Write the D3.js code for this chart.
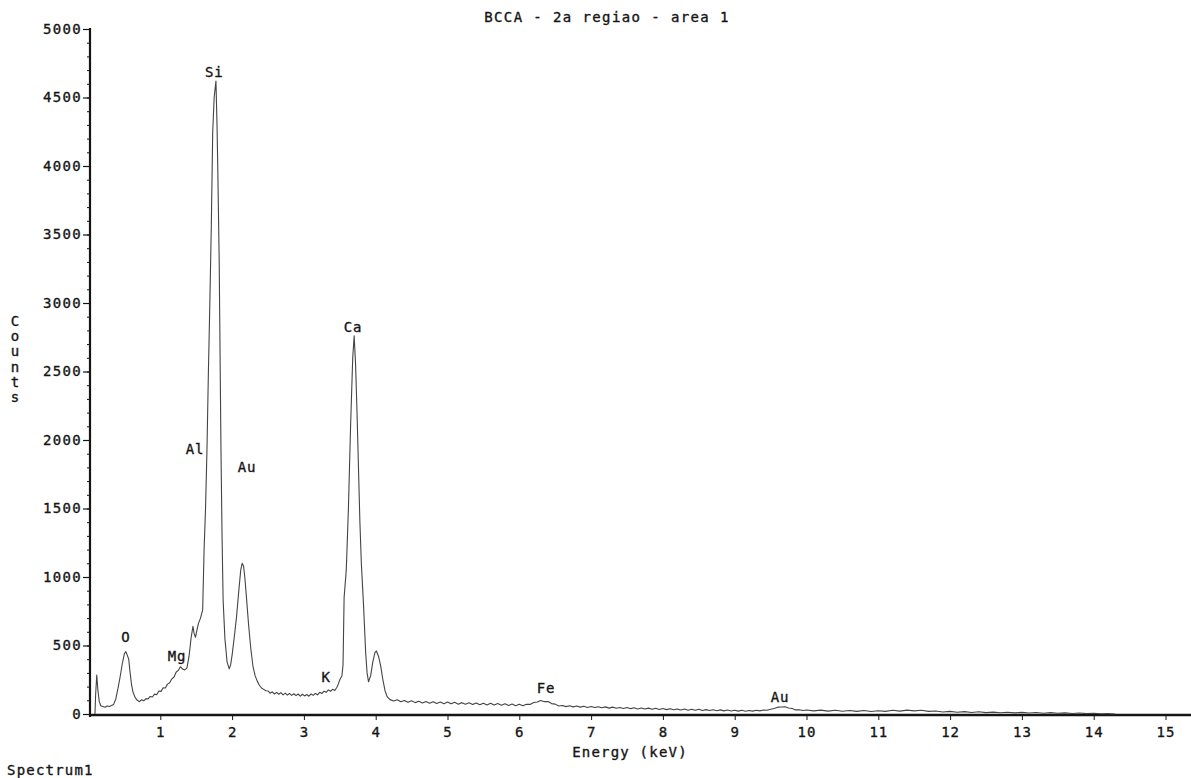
<!DOCTYPE html>
<html>
<head>
<meta charset="utf-8">
<script src="https://cdn.jsdelivr.net/npm/d3@7"></script>
<style>
  body { margin: 0; background: #fff; }
</style>
</head>
<body>
<div id="wrapper"></div>
<script>
width = 1191
height = 778

// spectrum, low energy part [keV, counts]
var peakRegion = [
  [0.09, 0], [0.10, 150], [0.115, 285], [0.13, 180], [0.15, 90], [0.17, 60], [0.20, 55], [0.23, 50],
  [0.26, 58], [0.29, 55], [0.32, 62], [0.35, 70], [0.38, 110], [0.41, 185], [0.44, 270], [0.47, 365],
  [0.50, 440], [0.52, 455], [0.54, 430], [0.56, 400], [0.58, 300], [0.60, 210], [0.62, 160], [0.65, 120],
  [0.68, 100], [0.71, 90], [0.74, 104], [0.77, 96], [0.80, 112], [0.83, 110], [0.86, 128], [0.89, 124],
  [0.92, 145], [0.95, 140], [0.98, 168], [1.01, 165], [1.04, 192], [1.07, 190], [1.10, 218], [1.13, 228],
  [1.16, 256], [1.19, 268], [1.22, 305], [1.25, 318], [1.28, 345], [1.31, 328], [1.34, 322], [1.37, 335],
  [1.40, 420], [1.43, 560], [1.455, 640], [1.47, 590], [1.49, 560], [1.51, 610], [1.53, 660], [1.56, 700],
  [1.59, 760], [1.61, 1200], [1.63, 1500], [1.65, 1930], [1.67, 2500], [1.69, 3000], [1.71, 3550], [1.73, 4250],
  [1.75, 4500], [1.775, 4620], [1.79, 4300], [1.80, 4000], [1.82, 3320], [1.845, 1930], [1.86, 1300], [1.875, 830],
  [1.90, 550], [1.93, 380], [1.96, 330], [1.98, 360], [2.00, 430], [2.03, 560], [2.06, 700], [2.09, 880],
  [2.12, 1050], [2.14, 1100], [2.16, 1080], [2.18, 980], [2.20, 850], [2.23, 650], [2.26, 480], [2.29, 350],
  [2.32, 280], [2.35, 240], [2.38, 210], [2.41, 190], [2.44, 180], [2.47, 170], [2.50, 168], [2.53, 152],
  [2.56, 162], [2.59, 146], [2.62, 158], [2.65, 144], [2.68, 156], [2.71, 140], [2.74, 152], [2.77, 138],
  [2.80, 150], [2.83, 136], [2.86, 148], [2.89, 134], [2.92, 146], [2.95, 130], [2.98, 144], [3.01, 132],
  [3.04, 142], [3.07, 130], [3.10, 146], [3.13, 136], [3.16, 150], [3.19, 140], [3.22, 158], [3.25, 150],
  [3.28, 166], [3.31, 158], [3.34, 176], [3.37, 166], [3.40, 180], [3.43, 172], [3.46, 195], [3.48, 220],
  [3.50, 250], [3.53, 280], [3.545, 360], [3.56, 850], [3.59, 1050],
  [3.62, 1500], [3.65, 2100], [3.68, 2600], [3.70, 2760], [3.72, 2550], [3.74, 2200], [3.76, 1800], [3.78, 1400],
  [3.80, 1100], [3.83, 800], [3.86, 450], [3.88, 300], [3.90, 235], [3.93, 280], [3.96, 380], [3.99, 450],
  [4.01, 460], [4.04, 420], [4.07, 350], [4.10, 250], [4.13, 170], [4.16, 125], [4.20, 105], [4.25, 95]
]

// spectrum, background tail [keV, counts]
var tailRegion = [
  [4.30, 104], [4.35, 90], [4.40, 99], [4.45, 85], [4.50, 96], [4.55, 83], [4.60, 93], [4.65, 80],
  [4.70, 91], [4.75, 79], [4.80, 90], [4.85, 77], [4.90, 88], [4.95, 75], [5.00, 87], [5.05, 74],
  [5.10, 85], [5.15, 72], [5.20, 83], [5.25, 71], [5.30, 82], [5.35, 69], [5.40, 81], [5.45, 68],
  [5.50, 79], [5.55, 66], [5.60, 78], [5.65, 65], [5.70, 76], [5.75, 64], [5.80, 75], [5.85, 62],
  [5.90, 73], [5.95, 61], [6.00, 72], [6.05, 60], [6.10, 71], [6.15, 70], [6.20, 84], [6.25, 88],
  [6.30, 98], [6.35, 90], [6.40, 91], [6.45, 76], [6.50, 72], [6.55, 58], [6.60, 62], [6.65, 54],
  [6.70, 60], [6.75, 52], [6.80, 58], [6.85, 50], [6.90, 56], [6.95, 48], [7.00, 55], [7.05, 47],
  [7.10, 53], [7.15, 45], [7.20, 52], [7.25, 43], [7.30, 50], [7.35, 42], [7.40, 48], [7.45, 40],
  [7.50, 47], [7.55, 39], [7.60, 45], [7.65, 37], [7.70, 44], [7.75, 36], [7.80, 43], [7.85, 34],
  [7.90, 42], [7.95, 33], [8.00, 40], [8.05, 32], [8.10, 39], [8.15, 31], [8.20, 37], [8.25, 29],
  [8.30, 36], [8.35, 28], [8.40, 35], [8.45, 27], [8.50, 34], [8.55, 26], [8.60, 32], [8.65, 25],
  [8.70, 31], [8.75, 24], [8.80, 30], [8.85, 23], [8.90, 29], [8.95, 22], [9.00, 28], [9.05, 21],
  [9.10, 27], [9.15, 20], [9.20, 26], [9.25, 21], [9.30, 27], [9.35, 23], [9.40, 29], [9.45, 27],
  [9.50, 35], [9.55, 40], [9.60, 50], [9.65, 51], [9.70, 53], [9.75, 44], [9.80, 40], [9.85, 30],
  [9.90, 31], [9.95, 25], [10.00, 29], [10.1, 23], [10.2, 28], [10.3, 21], [10.4, 27], [10.5, 20],
  [10.6, 26], [10.7, 19], [10.8, 25], [10.9, 18], [11.0, 24], [11.1, 19], [11.2, 27], [11.3, 21],
  [11.4, 28], [11.5, 23], [11.6, 27], [11.7, 19], [11.8, 22], [11.9, 15], [12.0, 19], [12.1, 13],
  [12.2, 17], [12.3, 11], [12.4, 16], [12.5, 10], [12.6, 14], [12.7, 9], [12.8, 13], [12.9, 8],
  [13.0, 12], [13.1, 7], [13.2, 11], [13.3, 6], [13.4, 10], [13.5, 5], [13.6, 8], [13.7, 4],
  [13.8, 7], [13.9, 3], [14.0, 5], [14.1, 2], [14.2, 3], [14.3, 0]
]

// element labels: name, energy (keV), counts where the label sits
var labelNames = ["Si", "Ca", "Al", "Au", "O", "Mg", "K", "Fe", "Au"]
var labelEnergy = [1.75, 3.684, 1.483, 2.208, 0.522, 1.233, 3.308, 6.372, 9.63]
var labelCounts = [4686, 2825, 1934, 1803, 562, 423, 270, 190, 124]

var xTicks = [1, 2, 3, 4, 5, 6, 7, 8, 9, 10, 11, 12, 13, 14, 15]
var yTicks = [0, 500, 1000, 1500, 2000, 2500, 3000, 3500, 4000, 4500, 5000]

var title = "BCCA - 2a regiao - area 1"
var xTitle = "Energy (keV)"
var yTitle = "Counts"
var footer = "Spectrum1"

var font = "'DejaVu Sans Mono', monospace"
var ink = "#151515"

const svg = d3.select("#wrapper").append("svg")
    .attr("width", width)
    .attr("height", height)
    .style("font-family", font)
    .style("font-size", "14px")

var x = d3.scaleLinear()
    .domain([0, 15])
    .range([88.5, 88.5 + 15 * 71.8])

var y = d3.scaleLinear()
    .domain([0, 5000])
    .range([714, 29])

// heavier text, closer to the scanned printout
function inked(sel) {
    sel.attr("fill", ink)
        .attr("stroke", ink)
        .attr("stroke-width", 0.35)
}

// y axis: major and minor ticks
svg.append("g")
    .attr("transform", `translate(90,0)`)
    .call(d3.axisLeft(y).tickValues(d3.range(0, 5001, 100)).tickSize(3).tickFormat(""))
    .call(g => g.select(".domain").remove())
    .call(g => g.selectAll("line").attr("stroke", ink))

svg.append("g")
    .attr("transform", `translate(90,0)`)
    .call(d3.axisLeft(y).tickValues(yTicks).tickSize(7).tickPadding(1).tickFormat(d3.format("d")))
    .call(g => g.select(".domain").remove())
    .call(g => g.selectAll("line").attr("stroke", ink).attr("stroke-width", 1.2))
    .call(g => g.selectAll("text")
        .call(inked)
        .style("font-family", font)
        .style("font-size", "14px")
        .style("letter-spacing", "1.3px"))

svg.append("line")
    .attr("x1", 90).attr("x2", 90)
    .attr("y1", y(5000) - 1).attr("y2", y(0) + 3)
    .attr("stroke", ink)
    .attr("stroke-width", 2.2)

// x axis
svg.append("g")
    .attr("transform", `translate(0,${y(0) + 1})`)
    .call(d3.axisBottom(x).tickValues(xTicks).tickSize(5).tickPadding(7).tickFormat(d3.format("d")))
    .call(g => g.select(".domain").remove())
    .call(g => g.selectAll("line").attr("stroke", ink))
    .call(g => g.selectAll("text")
        .call(inked)
        .style("font-family", font)
        .style("font-size", "14px")
        .style("letter-spacing", "1px"))

svg.append("line")
    .attr("x1", 89).attr("x2", width)
    .attr("y1", y(0) + 1).attr("y2", y(0) + 1)
    .attr("stroke", ink)
    .attr("stroke-width", 2.4)

// spectrum trace
var line = d3.line()
    .x(d => x(d[0]))
    .y(d => y(d[1]))

svg.append("path")
    .datum(peakRegion.concat(tailRegion))
    .attr("d", line)
    .attr("fill", "none")
    .attr("stroke", "#444")
    .attr("stroke-width", 1.1)
    .attr("stroke-linejoin", "round")

// element labels
svg.append("g")
    .selectAll("text")
    .data(labelNames)
    .join("text")
    .attr("x", (d, i) => x(labelEnergy[i]))
    .attr("y", (d, i) => y(labelCounts[i]))
    .attr("text-anchor", "middle")
    .attr("dominant-baseline", "central")
    .call(inked)
    .style("letter-spacing", "0.8px")
    .text(d => d)

// titles
svg.append("text")
    .attr("x", 607)
    .attr("y", 17)
    .attr("text-anchor", "middle")
    .attr("dominant-baseline", "central")
    .call(inked)
    .style("letter-spacing", "1.4px")
    .text(title)

svg.append("text")
    .attr("x", 630)
    .attr("y", 752)
    .attr("text-anchor", "middle")
    .attr("dominant-baseline", "central")
    .call(inked)
    .style("letter-spacing", "1.2px")
    .text(xTitle)

svg.append("g")
    .selectAll("text")
    .data(yTitle.split(""))
    .join("text")
    .attr("x", 15)
    .attr("y", (d, i) => 321 + i * 15.2)
    .attr("text-anchor", "middle")
    .attr("dominant-baseline", "central")
    .call(inked)
    .text(d => d)

svg.append("text")
    .attr("x", 7)
    .attr("y", 770)
    .attr("dominant-baseline", "central")
    .call(inked)
    .style("letter-spacing", "1.2px")
    .text(footer)
</script>
</body>
</html>
